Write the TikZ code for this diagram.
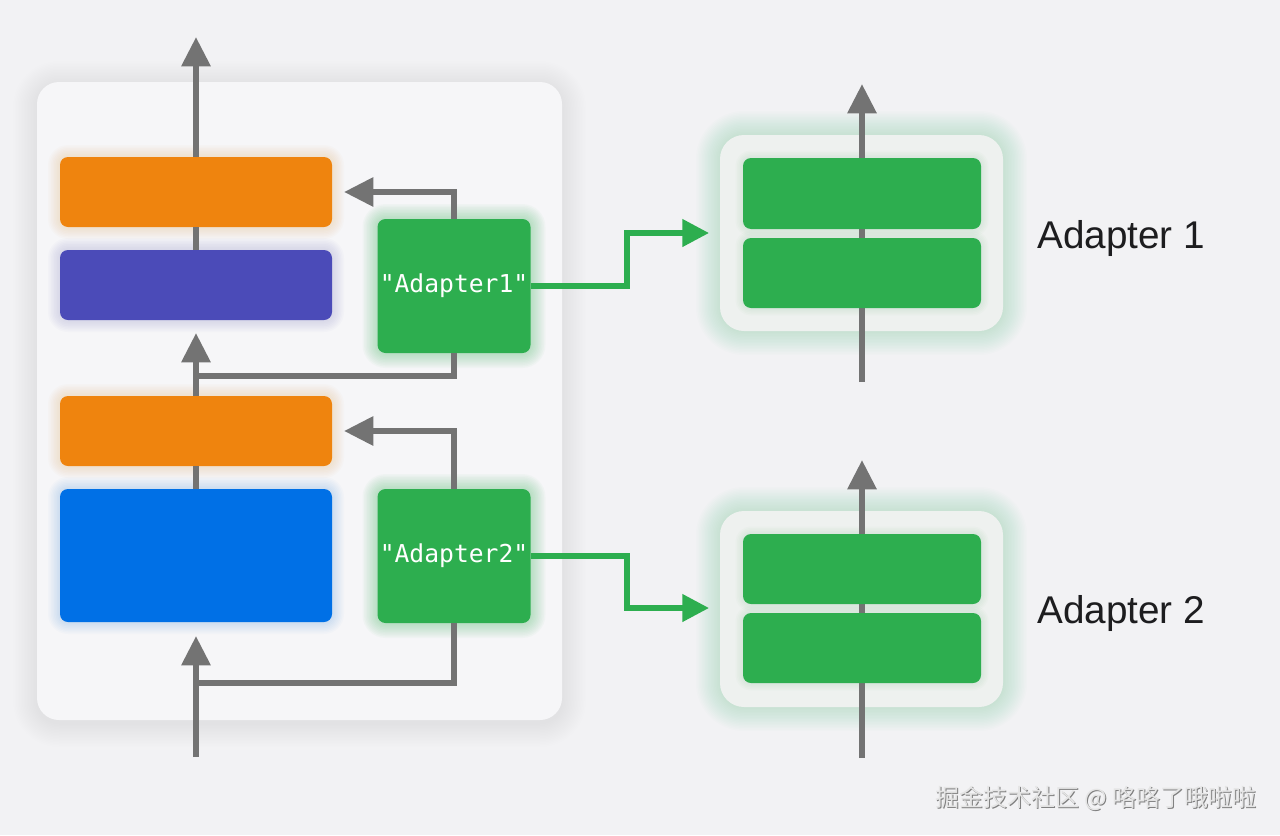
\documentclass[tikz,border=0pt]{standalone}
\usepackage{fontspec}
\setmainfont{Liberation Sans}
\newfontfamily\monof{DejaVu Sans Mono}
\newfontfamily\cjk{Noto Sans CJK SC}
\usetikzlibrary{arrows.meta,calc}
\pgfdeclarelayer{back}\pgfdeclarelayer{mid}\pgfdeclarelayer{glow}
\pgfsetlayers{back,mid,glow,main}
\definecolor{bgc}{HTML}{F2F2F4}
\definecolor{panelc}{HTML}{F6F6F8}
\definecolor{orangec}{HTML}{EF840E}
\definecolor{purplec}{HTML}{4B4BB8}
\definecolor{bluec}{HTML}{0070E6}
\definecolor{greenc}{HTML}{2DAE4F}
\definecolor{grayc}{HTML}{737373}
\definecolor{outerc}{HTML}{EEF1EF}
\definecolor{textc}{HTML}{1D1D1F}
\newcommand\halo[6]{%
  \foreach \i in {1,...,#4}{\pgfmathsetmacro\rr{(#6+\i*1.5)*0.75}
    \fill[#3, opacity=#5, rounded corners=\rr pt] ($#1+(-\i*1.5,\i*1.5)$) rectangle ($#2+(\i*1.5,-\i*1.5)$);}}
\tikzset{
  box/.style={rounded corners=6pt, inner sep=0pt, outer sep=0pt, draw=none},
  sz/.style 2 args={minimum width=#1*0.75pt, minimum height=#2*0.75pt},
  gline/.style={draw=grayc, line width=4.6pt},
  garrow/.style={gline, -{Triangle[length=22pt,width=21pt]}},
  grarrow/.style={draw=greenc, line width=4pt, -{Triangle[length=20pt,width=20pt]}},
  mono/.style={text=white, font=\monof\fontsize{18.5}{22}\selectfont},
  lab/.style={anchor=base west, inner sep=0pt, text=textc, font=\fontsize{29}{34}\selectfont},
  wmk/.style={anchor=base east, inner sep=0pt, font=\cjk\fontsize{18}{20}\selectfont}
}
\begin{document}
\begin{tikzpicture}[x=0.75pt,y=-0.75pt]
\useasboundingbox (0,0) rectangle (1280,835);
\begin{pgfonlayer}{back}
  \fill[bgc] (0,0) rectangle (1280,835);
\end{pgfonlayer}
% panels
\begin{pgfonlayer}{mid}
  \node[box, rounded corners=16.5pt, fill=panelc, sz={525}{638}] (panel) at (299.5,401) {};
  \node[box, rounded corners=18pt, fill=outerc, sz={283}{196}] (ro1) at (861.5,233) {};
  \node[box, rounded corners=18pt, fill=outerc, sz={283}{196}] (ro2) at (861.5,609) {};
\end{pgfonlayer}
\begin{pgfonlayer}{back}
  \halo{($(panel.south west)+(0,3)$)}{($(panel.north east)+(0,3)$)}{black}{16}{0.005}{22}
  \halo{(ro1.south west)}{(ro1.north east)}{greenc}{16}{0.011}{24}
  \halo{(ro2.south west)}{(ro2.north east)}{greenc}{16}{0.011}{24}
\end{pgfonlayer}
% left boxes
\node[box, fill=orangec, sz={272}{70}] (o1) at (196,192) {};
\node[box, fill=purplec, sz={272}{70}] (pu) at (196,285) {};
\node[box, fill=orangec, sz={272}{70}] (o2) at (196,431) {};
\node[box, fill=bluec, sz={272}{133}] (bl) at (196,555.5) {};
\node[box, fill=greenc, sz={153}{134}, mono] (g1) at (454,286) {"Adapter1"};
\node[box, fill=greenc, sz={153}{134}, mono] (g2) at (454,556) {"Adapter2"};
\begin{pgfonlayer}{glow}
  \halo{(o1.south west)}{(o1.north east)}{orangec}{8}{0.02}{8}
  \halo{(pu.south west)}{(pu.north east)}{purplec}{8}{0.02}{8}
  \halo{(o2.south west)}{(o2.north east)}{orangec}{8}{0.02}{8}
  \halo{(bl.south west)}{(bl.north east)}{bluec}{8}{0.02}{8}
  \halo{(g1.south west)}{(g1.north east)}{greenc}{10}{0.03}{8}
  \halo{(g2.south west)}{(g2.north east)}{greenc}{10}{0.03}{8}
\end{pgfonlayer}
% coordinates
\coordinate (topT) at (196,37);
\coordinate (t1) at (196,333);
\coordinate (j1) at (196,376);
\coordinate (t2) at (344,192);
\coordinate (t3) at (344,431);
\coordinate (j2) at (196,683);
\coordinate (b0) at (196,757);
\coordinate (t4) at (196,636);
\coordinate (k1) at (627,233);
\coordinate (k2) at (627,608);
\coordinate (in1) at (709,233);
\coordinate (in2) at (709,608);
\coordinate (rb1) at (862,382);
\coordinate (rt1) at (862,84);
\coordinate (rb2) at (862,758);
\coordinate (rt2) at (862,460);
% gray connectors
\draw[garrow] (o1.north) -- (topT);
\draw[gline] (o1.south) -- (pu.north);
\draw[gline] (o2.south) -- (bl.north);
\draw[garrow] (o2.north) -- (t1);
\draw[gline] (g1.south) |- (j1);
\draw[garrow] (g1.north) |- (t2);
\draw[garrow] (g2.north) |- (t3);
\draw[gline] (g2.south) |- (j2);
\draw[garrow] (b0) -- (t4);
% green connectors
\draw[grarrow] (g1.east) -| (k1) -- (in1);
\draw[grarrow] (g2.east) -| (k2) -- (in2);
% right stacks
\draw[garrow] (rb1) -- (rt1);
\draw[garrow] (rb2) -- (rt2);
\node[box, fill=greenc, sz={238}{71}] (r1a) at (862,193.5) {};
\node[box, fill=greenc, sz={238}{70}] (r1b) at (862,273) {};
\node[box, fill=greenc, sz={238}{70}] (r2a) at (862,569) {};
\node[box, fill=greenc, sz={238}{70}] (r2b) at (862,648) {};
\begin{pgfonlayer}{glow}
  \halo{(r1a.south west)}{(r1a.north east)}{greenc}{5}{0.02}{8}
  \halo{(r1b.south west)}{(r1b.north east)}{greenc}{5}{0.02}{8}
  \halo{(r2a.south west)}{(r2a.north east)}{greenc}{5}{0.02}{8}
  \halo{(r2b.south west)}{(r2b.north east)}{greenc}{5}{0.02}{8}
\end{pgfonlayer}
% labels
\node[lab] (lab1) at (1037,248) {Adapter 1};
\node[lab] (lab2) at (1037,623) {Adapter 2};
% watermark
\node[wmk, text=black!50] (wms) at (1258,807) {掘金技术社区 @ 咯咯了哦啦啦};
\node[wmk, text=white!90!black] (wm) at (1257,806) {掘金技术社区 @ 咯咯了哦啦啦};
\end{tikzpicture}
\end{document}
